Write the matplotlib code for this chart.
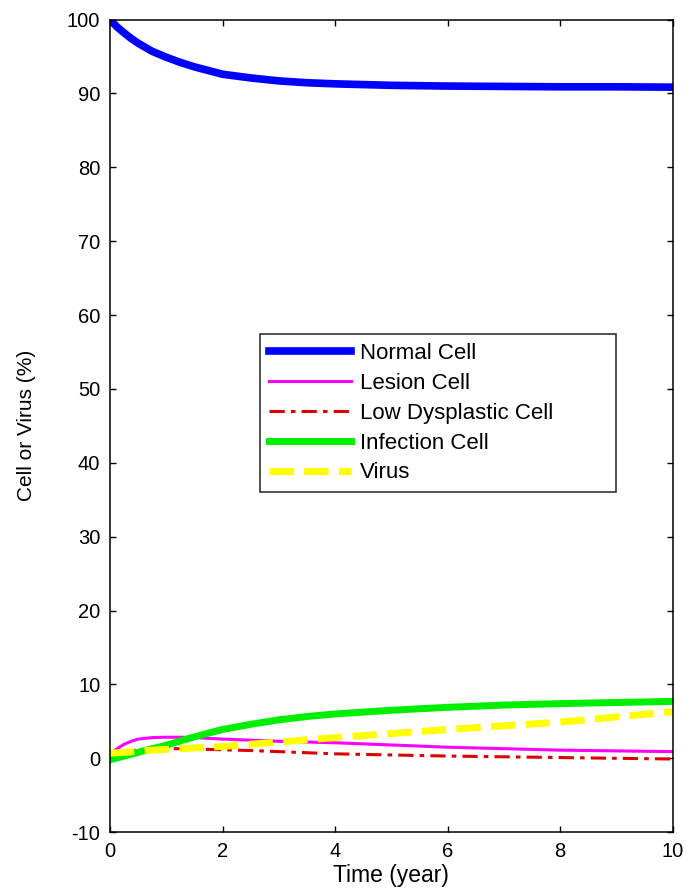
import matplotlib.pyplot as plt

plt.rcParams['font.family'] = ['Liberation Sans', 'DejaVu Sans']
plt.rcParams['axes.unicode_minus'] = False

# time points (year)
t = [0, 0.125, 0.25, 0.375, 0.5, 0.75, 1, 1.25, 1.5, 1.75, 2, 2.5, 3, 3.5, 4, 5, 6, 7, 8, 9, 10]

normal = [100, 99.0, 98.2, 97.45, 96.8, 95.7, 94.9, 94.2, 93.6, 93.1, 92.6, 92.1, 91.7, 91.45, 91.3,
          91.1, 91.0, 90.95, 90.9, 90.9, 90.85]
lesion = [0.5, 1.3, 1.9, 2.3, 2.6, 2.8, 2.85, 2.85, 2.8, 2.7, 2.6, 2.45, 2.3, 2.2, 2.1,
          1.8, 1.5, 1.3, 1.1, 1.0, 0.9]
low_dys = [0.5, 0.7, 0.9, 1.0, 1.1, 1.25, 1.3, 1.3, 1.25, 1.2, 1.15, 1.05, 0.9, 0.75, 0.6,
           0.45, 0.3, 0.2, 0.1, 0.0, -0.1]
infection = [-0.2, 0.05, 0.3, 0.55, 0.8, 1.3, 1.75, 2.35, 2.9, 3.4, 3.9, 4.6, 5.2, 5.65, 6.0,
             6.5, 6.9, 7.2, 7.4, 7.55, 7.7]
virus = [0.7, 0.75, 0.8, 0.88, 0.95, 1.1, 1.2, 1.3, 1.4, 1.5, 1.6, 1.9, 2.2, 2.5, 2.8,
         3.35, 3.9, 4.4, 4.9, 5.6, 6.3]

fig = plt.figure(figsize=(6.92, 8.9), dpi=100)
ax = fig.add_axes([0.159, 0.065, 0.813, 0.913])

ax.plot(t, normal, color='#0000ff', lw=5.5, label='Normal Cell')
ax.plot(t, lesion, color='#ff00ff', lw=2.2, label='Lesion Cell')
ax.plot(t, low_dys, color='#dd0000', lw=2.2, ls=(0, (5, 2, 1.5, 2)), label='Low Dysplastic Cell')
ax.plot(t, infection, color='#00ee00', lw=5, label='Infection Cell')
ax.plot(t, virus, color='#ffff00', lw=5, ls=(0, (3.5, 1.5)), label='Virus')

ax.set_xlim(0, 10)
ax.set_ylim(-10, 100)
ax.set_xticks(range(0, 11, 2))
ax.set_yticks(range(-10, 101, 10))
ax.tick_params(direction='in', top=True, right=True, labelsize=14.5, length=4, width=1)
ax.tick_params(axis='y', pad=7)
ax.tick_params(axis='x', pad=7)
for s in ax.spines.values():
    s.set_linewidth(1.1)
ax.set_xlabel('Time (year)', fontsize=16.5, labelpad=2.5)
ax.set_ylabel('Cell or Virus (%)', fontsize=15)
ax.yaxis.set_label_coords(-0.132, 0.5)

# legend box spans x 260..617, top at y 333 in the reference
leg = ax.legend(loc='upper left', bbox_to_anchor=(0.266, 0.0, 0.634, 0.613),
                mode='expand', fontsize=16, frameon=True, fancybox=False,
                edgecolor='black', handlelength=3.7, handletextpad=0.4,
                labelspacing=0.4, borderpad=0.4, borderaxespad=0)
leg.get_frame().set_linewidth(1.2)

fig.savefig('out.png', dpi=100)
